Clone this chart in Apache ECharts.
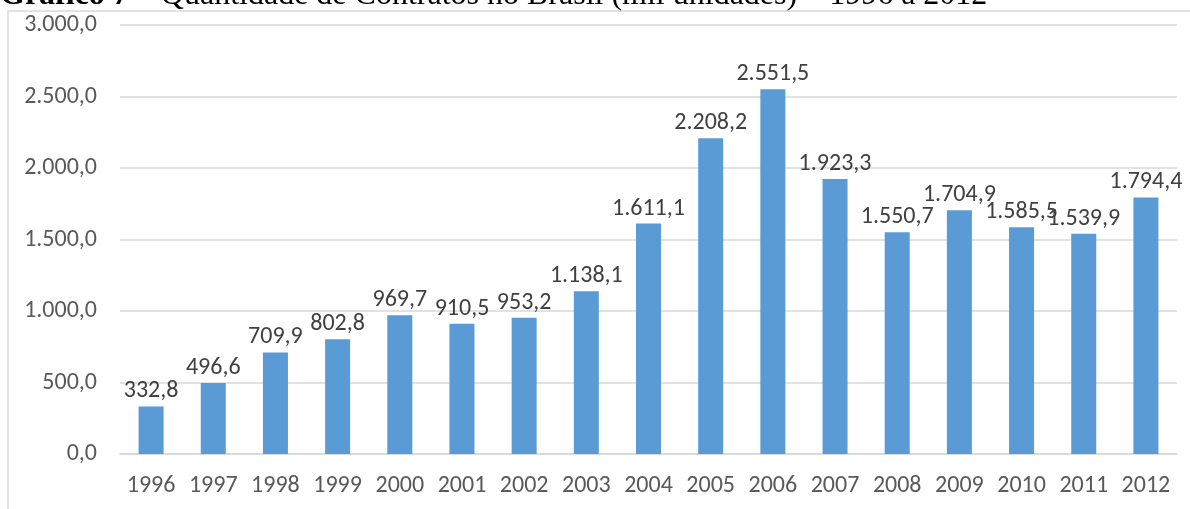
<!DOCTYPE html>
<html>
<head>
<meta charset="utf-8">
<script src="https://cdn.jsdelivr.net/npm/echarts@6/dist/echarts.min.js"></script>
<style>
  html, body { margin: 0; padding: 0; background: #fff; }
  #chart { width: 1190px; height: 509px; }
</style>
</head>
<body>
<div id="chart"></div>
<script>
// Contratos no Brasil (mil unidades), 1996–2012
const years = ['1996','1997','1998','1999','2000','2001','2002','2003','2004','2005','2006','2007','2008','2009','2010','2011','2012'];
const contratos = [332.8, 496.6, 709.9, 802.8, 969.7, 910.5, 953.2, 1138.1, 1611.1, 2208.2, 2551.5, 1923.3, 1550.7, 1704.9, 1585.5, 1539.9, 1794.4];
const yTicks = [0, 500, 1000, 1500, 2000, 2500, 3000];

// pt-BR number format with one decimal: 1.234,5
function fmtBR(v) {
  const parts = v.toFixed(1).split('.');
  const int = parts[0].replace(/\B(?=(\d{3})+(?!\d))/g, '.');
  return int + ',' + parts[1];
}

const FONT = "Carlito, 'Liberation Sans', sans-serif";
const chart = echarts.init(document.getElementById('chart'), null, { renderer: 'canvas' });

chart.setOption({
  animation: false,
  backgroundColor: '#ffffff',
  grid: { left: 120, right: 13, top: 25, bottom: 55, containLabel: false },
  graphic: [
    {
      type: 'rect',
      shape: { x: 8, y: 11, width: 1200, height: 520 },
      style: { fill: 'none', stroke: '#d9d9d9', lineWidth: 1.5 },
      silent: true
    },
    {
      type: 'text',
      x: 0,
      y: -4,
      style: {
        text: '{b|Gráfico 7} – Quantidade de Contratos no Brasil (mil unidades) – 1996 a 2012',
        fontFamily: "'Liberation Serif', 'Times New Roman', serif",
        fontSize: 32,
        fill: '#000',
        verticalAlign: 'middle',
        rich: {
          b: { fontWeight: 'bold', fontFamily: "'Liberation Serif', serif", fontSize: 32 }
        }
      },
      silent: true
    }
  ],
  xAxis: {
    type: 'category',
    data: years,
    axisLine: { show: true, lineStyle: { color: '#d9d9d9', width: 1.5 } },
    axisTick: { show: false },
    axisLabel: { color: '#595959', fontSize: 24, fontFamily: FONT, margin: 20, interval: 0 }
  },
  yAxis: {
    type: 'value',
    min: yTicks[0],
    max: yTicks[yTicks.length - 1],
    interval: 500,
    axisLine: { show: false },
    axisTick: { show: false },
    splitLine: { lineStyle: { color: '#d9d9d9', width: 1.5 } },
    axisLabel: { color: '#595959', fontSize: 24, fontFamily: FONT, margin: 23, formatter: fmtBR }
  },
  series: [{
    type: 'bar',
    data: contratos,
    barWidth: 25,
    itemStyle: { color: '#5b9bd5' },
    label: {
      show: true,
      position: 'top',
      distance: 3,
      color: '#404040',
      fontSize: 24,
      fontFamily: FONT,
      formatter: p => fmtBR(p.value)
    }
  }]
});
</script>
</body>
</html>
